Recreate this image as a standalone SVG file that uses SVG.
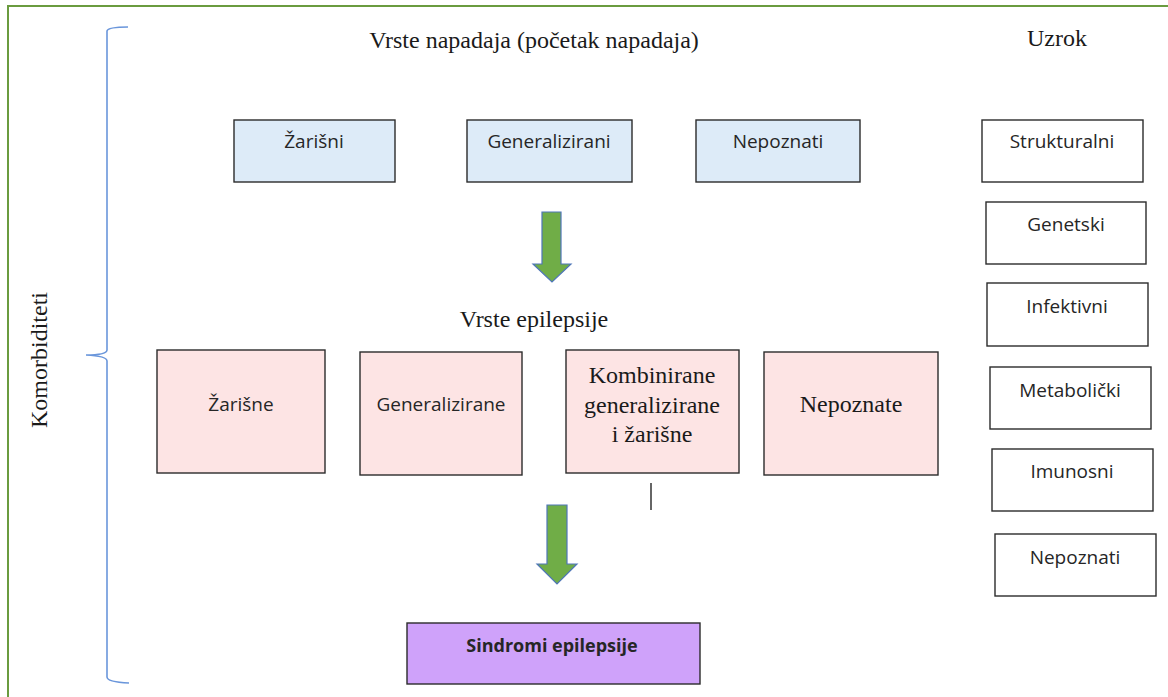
<svg xmlns="http://www.w3.org/2000/svg" width="1168" height="697" viewBox="0 0 1168 697">
<style>
.bg{fill:#ffffff}
.frame{fill:none;stroke:#6a9b3f;stroke-width:2}
.brace{fill:none;stroke:#6a96db;stroke-width:1.6}
.box{stroke:#2b2b2b;stroke-width:1.4}
.blue{fill:#ddebf8}
.pink{fill:#fde4e4}
.white{fill:#ffffff}
.purple{fill:#cfa2fa}
.sans{font-family:"Open Sans","Noto Sans","Liberation Sans",sans-serif;font-size:19px;fill:#262626;text-anchor:middle}
.serif{font-family:"Liberation Serif","DejaVu Serif",serif;font-size:24px;fill:#1a1a1a;text-anchor:middle}
.bold{font-weight:bold;font-size:18px}
.arrow{fill:#70ad47;stroke:#4f76b8;stroke-width:1.2}
.tick{stroke:#333;stroke-width:1.5}
</style>
<rect class="bg" x="0" y="0" width="1168" height="697"/>
<path class="frame" d="M8,697 V6 H1168"/>
<g id="brace">
<path class="brace" d="M128,27 Q108,27 107,31 V350 Q107,355 86,355 Q107,356 107,361 V677 Q107,682 129,683"/>
<text class="serif" transform="translate(47,360) rotate(-90)">Komorbiditeti</text>
</g>
<g id="titles">
<text class="serif" x="534" y="48">Vrste napadaja (početak napadaja)</text>
<text class="serif" x="1057" y="46">Uzrok</text>
<text class="serif" x="534" y="327">Vrste epilepsije</text>
</g>
<g id="seizure-types">
<g id="s-zarisni"><rect class="box blue" x="234" y="120" width="161" height="62"/><text class="sans" x="314" y="148">Žarišni</text></g>
<g id="s-generalizirani"><rect class="box blue" x="467" y="120" width="165" height="62"/><text class="sans" x="549" y="148">Generalizirani</text></g>
<g id="s-nepoznati"><rect class="box blue" x="696" y="120" width="164" height="62"/><text class="sans" x="778" y="148">Nepoznati</text></g>
</g>
<g id="epilepsy-types">
<g id="e-zarisne"><rect class="box pink" x="157" y="350" width="168" height="123"/><text class="sans" x="241" y="411">Žarišne</text></g>
<g id="e-generalizirane"><rect class="box pink" x="360" y="352" width="162" height="123"/><text class="sans" x="441" y="411">Generalizirane</text></g>
<g id="e-kombinirane"><rect class="box pink" x="566" y="350" width="173" height="123"/>
<text class="serif" x="652" y="383">Kombinirane</text>
<text class="serif" x="652" y="413">generalizirane</text>
<text class="serif" x="652" y="442">i žarišne</text></g>
<g id="e-nepoznate"><rect class="box pink" x="764" y="352" width="174" height="123"/><text class="serif" x="851" y="412">Nepoznate</text></g>
</g>
<g id="causes">
<g id="c-strukturalni"><rect class="box white" x="982" y="120" width="161" height="62"/><text class="sans" x="1062" y="148">Strukturalni</text></g>
<g id="c-genetski"><rect class="box white" x="986" y="202" width="160" height="62"/><text class="sans" x="1066" y="231">Genetski</text></g>
<g id="c-infektivni"><rect class="box white" x="987" y="283" width="161" height="63"/><text class="sans" x="1067" y="313">Infektivni</text></g>
<g id="c-metabolicki"><rect class="box white" x="990" y="367" width="161" height="62"/><text class="sans" x="1070" y="397">Metabolički</text></g>
<g id="c-imunosni"><rect class="box white" x="992" y="449" width="161" height="62"/><text class="sans" x="1072" y="478">Imunosni</text></g>
<g id="c-nepoznati"><rect class="box white" x="995" y="534" width="161" height="62"/><text class="sans" x="1075" y="564">Nepoznati</text></g>
</g>
<g id="syndromes">
<rect class="box purple" x="407" y="623" width="293" height="61"/>
<text class="sans bold" x="552" y="652">Sindromi epilepsije</text>
</g>
<g id="connectors">
<path class="arrow" d="M542,212 H561 V264 H571 L552,282 L533,264 H542 Z"/>
<path class="arrow" d="M547,505 H567 V564 H577 L557,584 L537,564 H547 Z"/>
<line class="tick" x1="651" y1="483" x2="651" y2="510"/>
</g>
</svg>
